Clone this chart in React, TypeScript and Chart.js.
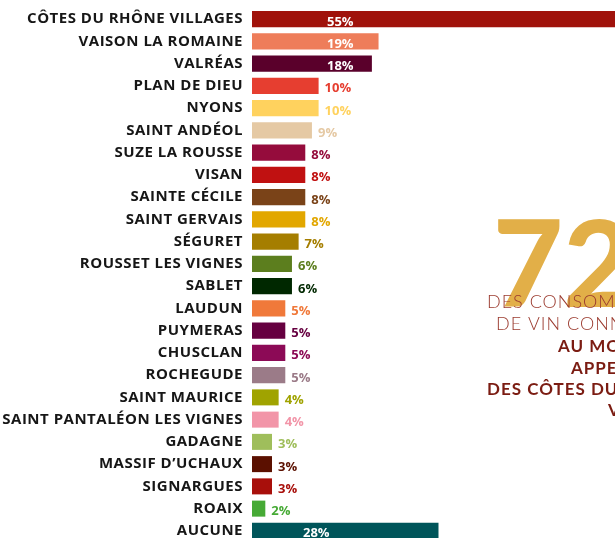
import React, { useEffect, useRef } from "react";
import { Chart, registerables } from "chart.js";

Chart.register(...registerables);

const categories = [
  "CÔTES DU RHÔNE VILLAGES",
  "VAISON LA ROMAINE",
  "VALRÉAS",
  "PLAN DE DIEU",
  "NYONS",
  "SAINT ANDÉOL",
  "SUZE LA ROUSSE",
  "VISAN",
  "SAINTE CÉCILE",
  "SAINT GERVAIS",
  "SÉGURET",
  "ROUSSET LES VIGNES",
  "SABLET",
  "LAUDUN",
  "PUYMERAS",
  "CHUSCLAN",
  "ROCHEGUDE",
  "SAINT MAURICE",
  "SAINT PANTALÉON LES VIGNES",
  "GADAGNE",
  "MASSIF D’UCHAUX",
  "SIGNARGUES",
  "ROAIX",
  "AUCUNE",
];

const values = [55, 19, 18, 10, 10, 9, 8, 8, 8, 8, 7, 6, 6, 5, 5, 5, 5, 4, 4, 3, 3, 3, 2, 28];

const barColors = [
  "#A0120B",
  "#EE7D5A",
  "#5A002B",
  "#E63E30",
  "#FFD25E",
  "#E5C9A4",
  "#950C3C",
  "#C01111",
  "#7A4318",
  "#E2A700",
  "#A57E00",
  "#5C7E1E",
  "#002800",
  "#F0793A",
  "#660040",
  "#8C0A56",
  "#9B7B88",
  "#A0A300",
  "#F295A8",
  "#9FBE5B",
  "#5B1000",
  "#A80F0B",
  "#46AA35",
  "#00555A",
];

const bigNumber = "72%";
const calloutLines = [
  "DES CONSOMMATEURS",
  "DE VIN CONNAISSENT",
  "AU MOINS UNE",
  "APPELLATION",
  "DES CÔTES DU RHÔNE",
  "VILLAGES",
];

const spacingPlugin = {
  id: "tickSpacing",
  beforeDraw(chart: any) {
    (chart.ctx as any).letterSpacing = "0.5px";
  },
  afterDraw(chart: any) {
    (chart.ctx as any).letterSpacing = "0px";
  },
};

const valueLabelPlugin = {
  id: "valueLabels",
  afterDatasetsDraw(chart: any) {
    const ctx = chart.ctx;
    const meta = chart.getDatasetMeta(0);
    const data = chart.data.datasets[0].data as number[];
    const colors = chart.data.datasets[0].backgroundColor as string[];
    ctx.save();
    (ctx as any).letterSpacing = "0px";
    ctx.font = "bold 13px 'Open Sans'";
    ctx.textAlign = "left";
    ctx.textBaseline = "alphabetic";
    meta.data.forEach((bar: any, i: number) => {
      const v = data[i];
      const text = v + "%";
      const y = bar.y + 6.5;
      if (v >= 15) {
        ctx.fillStyle = "#FFFFFF";
        const off = i === data.length - 1 ? 51 : 75;
        ctx.fillText(text, bar.base + off, y);
      } else {
        ctx.fillStyle = colors[i];
        ctx.fillText(text, bar.x + 6, y);
      }
    });
    ctx.restore();
  },
};

const calloutPlugin = {
  id: "callout",
  afterDraw(chart: any) {
    const ctx = chart.ctx;
    ctx.save();
    ctx.textAlign = "left";
    ctx.textBaseline = "alphabetic";
    (ctx as any).letterSpacing = "0px";
    ctx.fillStyle = "#E2AF48";
    ctx.font = "900 121px Lato";
    ctx.fillText(bigNumber, 493, 307);

    const xs = [487, 496, 558, 571, 487, 608];
    const ys = [308, 330, 352, 374, 395, 416];
    calloutLines.forEach((line, i) => {
      const light = i < 2;
      ctx.font = light ? "300 18px Lato" : "bold 17px Lato";
      ctx.fillStyle = light ? "#9B3A2E" : "#7B1C12";
      (ctx as any).letterSpacing = "1px";
      ctx.fillText(line, xs[i], ys[i]);
    });
    ctx.restore();
  },
};

export default function App() {
  const ref = useRef<HTMLCanvasElement | null>(null);

  useEffect(() => {
    if (!ref.current) return;
    const chart = new Chart(ref.current, {
      type: "bar",
      data: {
        labels: categories,
        datasets: [
          {
            data: values,
            backgroundColor: barColors,
            borderWidth: 0,
            categoryPercentage: 1,
            barPercentage: 0.72,
          },
        ],
      },
      options: {
        indexAxis: "y",
        animation: false,
        responsive: false,
        devicePixelRatio: 1,
        layout: { padding: { top: 8, right: 0, bottom: 0, left: 0 } },
        plugins: {
          legend: { display: false },
          tooltip: { enabled: false },
        },
        scales: {
          x: { display: false, min: 0, max: 54.5 },
          y: {
            grid: { display: false, drawTicks: false },
            border: { display: false },
            ticks: {
              autoSkip: false,
              padding: 9,
              color: "#161616",
              font: { family: "'Open Sans'", weight: "bold", size: 15 },
            },
            afterFit: (scale: any) => {
              scale.width = 252;
              scale.paddingTop = 0;
              scale.paddingBottom = 0;
            },
          },
        },
      },
      plugins: [spacingPlugin, valueLabelPlugin, calloutPlugin],
    } as any);
    return () => chart.destroy();
  }, []);

  return (
    <div
      style={{
        position: "absolute",
        left: 0,
        top: 0,
        width: 615,
        height: 538,
        overflow: "hidden",
        background: "#FFFFFF",
      }}
    >
      <canvas ref={ref} width={615} height={542} style={{ display: "block" }} />
    </div>
  );
}
